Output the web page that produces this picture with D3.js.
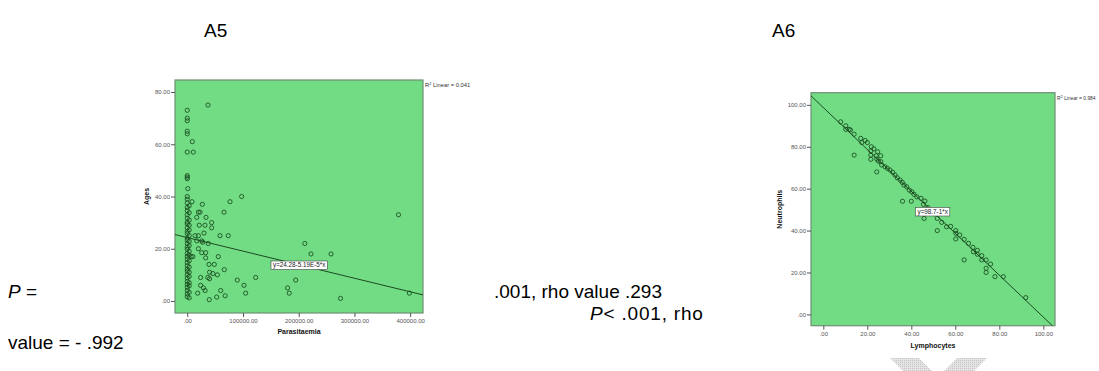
<!DOCTYPE html>
<html>
<head>
<meta charset="utf-8">
<script src="https://cdn.jsdelivr.net/npm/d3@7"></script>
<style>
  html, body { margin: 0; padding: 0; background: #fff; }
  svg { display: block; font-family: "Liberation Sans", Arial, sans-serif; }
</style>
</head>
<body>
<svg id="page" width="1099" height="371"></svg>
<script>
// ---- Panel A5: Ages vs Parasitaemia ----
const parasitaemia = [
  37200, 0, 0, 0, 0, 0, 9000, 0, 10800, 0, 0, 0, 1000, 0, 8500, 27000, 76700, 97600,
  20000, 23000, 66000, 33600, 17000, 43800, 43800, 21500, 31800, 14000, 20000, 30000,
  58700, 73600, 17000, 26000, 27600, 37700, 20000, 26000, 33000, 33000, 55700, 7000,
  10000, 39000, 48500, 66400, 40000, 46000, 54000, 24000, 37000, 40000, 89800, 122800,
  194600, 24000, 29000, 32000, 101800, 104800, 60000, 68000, 39500, 52800, 18700,
  180000, 183000, 211000, 222000, 258000, 379000, 275000, 398600,
  0, 0, 0, 0, 0, 0, 0, 0, 0, 0, 0, 0, 0, 0, 0, 0, 0, 0, 0, 0, 0, 0, 0, 0, 0, 0, 0, 0, 0, 0, 0,
  3500, 3500, 3500, 3500, 3500, 3500, 3500, 3500, 3500, 3500, 3500, 3500, 3500, 3500, 3500, 3500, 3500, 3500
];
const ages = [
  75, 73, 70, 69, 65, 64, 61, 57, 57, 48, 47.4, 46.8, 43, 40, 38, 37, 38, 40,
  34, 34, 34, 32, 32, 30, 28, 29, 29, 25, 25, 26,
  25, 25, 23, 23, 22.5, 22, 20, 18.5, 18.5, 16.5, 17, 17,
  17, 14, 14, 12, 11, 10.5, 10, 9, 9, 8.5, 8, 9,
  8, 6, 5, 4, 6, 3, 4, 2, 0.5, 1.5, 3,
  5, 3, 22, 18, 18, 33, 1, 3,
  39, 37.5, 35.8, 34.6, 33, 31.7, 30.2, 29.5, 28, 26.7, 25.8, 24.1, 23.3, 22, 20.6, 19.8,
  18.2, 17.1, 16, 14.7, 13.5, 12.2, 11.4, 10, 8.8, 7.5, 6.4, 5.2, 4, 2.7, 1.6,
  36.5, 33.8, 31, 29, 27.2, 25, 22.8, 21.2, 19, 17.6, 15.4, 13, 11, 9.4, 7, 5.8, 3.3, 1.2
];
const a5XTicks = [0, 100000, 200000, 300000, 400000];
const a5YTicks = [0, 20, 40, 60, 80];
const a5Fit = { intercept: 24.28, slope: -5.19e-5, label: "y=24.28-5.19E-5*x", r2: "0.041" };

// ---- Panel A6: Neutrophils vs Lymphocytes ----
const lymphocytes = [
  7.9, 10.2, 11.7, 10.2, 12.3, 14, 17, 19, 17.5, 20, 21.8, 23, 24.7, 14, 21.6, 21.6, 21.6,
  24, 26.1, 24.3, 25, 26.1, 26.5, 28, 29.1, 30.3, 31.5, 32.6, 33.6, 34.9, 35.9, 36.7, 37.9,
  39.1, 40.2, 41.2, 42.5, 44.4, 46.2, 36, 40, 24.3, 45.8, 51.8, 45.5, 47.5, 49, 50.5,
  51.8, 53.8, 56, 57.9, 60.2, 60.2, 60.2, 62, 64, 66, 68, 68.2, 70, 70, 72, 72, 74, 74, 74,
  76, 78, 81.8, 64, 92
];
const neutrophils = [
  91.9, 90, 88.3, 88.3, 88, 86, 84, 83, 82, 82, 80, 79, 77.6, 76, 78, 76, 74,
  75.7, 75.7, 74.1, 73.2, 72.9, 71.3, 70.5, 69.7, 68.9, 67.8, 66.5, 65.2, 64.1, 63, 61.7, 60.9,
  59.3, 58.5, 57.3, 56.1, 55.4, 54.1, 54, 54, 68, 45.8, 45.8, 52.5, 51, 49.5, 48,
  40, 43.9, 41.8, 42, 40, 38.7, 36, 37.9, 35.8, 33.9, 32, 29.9, 30.6, 28.7, 28, 26, 26, 22, 20,
  24, 18, 18, 26, 8
];
const a6XTicks = [0, 20, 40, 60, 80, 100];
const a6YTicks = [0, 20, 40, 60, 80, 100];
const a6Fit = { intercept: 98.7, slope: -1, label: "y=98.7-1*x", r2: "0.984" };

const svg = d3.select("#page");
const plotFill = "#72dc85";
const fmt = v => v === 0 ? ".00" : v.toFixed(2);

function scatterPanel(cfg) {
  const { xs, ys, xDomain, yDomain, box, xTicks, yTicks, fit, xLabel, yLabel, id } = cfg;
  const x = d3.scaleLinear().domain(xDomain).range([box.left, box.right]);
  const y = d3.scaleLinear().domain(yDomain).range([box.bottom, box.top]);
  const g = svg.append("g");

  g.append("clipPath").attr("id", id).append("rect")
    .attr("x", box.left).attr("y", box.top)
    .attr("width", box.right - box.left).attr("height", box.bottom - box.top);

  g.append("rect")
    .attr("x", box.left).attr("y", box.top)
    .attr("width", box.right - box.left).attr("height", box.bottom - box.top)
    .attr("fill", plotFill).attr("stroke", "#6f8f74").attr("stroke-width", 1.2);

  const xAxis = g.append("g").attr("transform", `translate(0,${box.bottom})`)
    .call(d3.axisBottom(x).tickValues(xTicks).tickFormat(fmt).tickSize(4).tickPadding(2));
  const yAxis = g.append("g").attr("transform", `translate(${box.left},0)`)
    .call(d3.axisLeft(y).tickValues(yTicks).tickFormat(fmt).tickSize(4).tickPadding(1));
  [xAxis, yAxis].forEach(a => {
    a.select(".domain").remove();
    a.selectAll("line").attr("stroke", "#555");
    a.selectAll("text").attr("font-size", 6).attr("fill", "#555")
      .attr("font-family", "'Liberation Sans', Arial, sans-serif");
  });

  // regression line across the plotted x-range
  const line = d3.line().x(d => x(d)).y(d => y(fit.intercept + fit.slope * d));
  g.append("path").datum(xDomain)
    .attr("clip-path", `url(#${id})`)
    .attr("d", line).attr("fill", "none")
    .attr("stroke", "#1d4a22").attr("stroke-width", 1);

  g.append("g").attr("clip-path", `url(#${id})`)
    .selectAll("circle").data(xs.map((v, i) => [v, ys[i]])).join("circle")
    .attr("cx", d => x(d[0])).attr("cy", d => y(d[1])).attr("r", 2.1)
    .attr("fill", "none").attr("stroke", "#184a1d").attr("stroke-width", 0.85);

  // equation label
  const lb = g.append("g").attr("transform", `translate(${cfg.labelAt[0]},${cfg.labelAt[1]})`);
  const lt = lb.append("text").attr("x", 2).attr("y", 6.2).attr("font-size", 6.3)
    .attr("fill", "#222").text(fit.label);
  const w = lt.node().getComputedTextLength() + 4;
  lb.insert("rect", "text").attr("width", w).attr("height", 8.5)
    .attr("fill", "#fff").attr("stroke", "#444").attr("stroke-width", 0.6);

  // R² annotation
  const r2 = g.append("text").attr("x", box.right + 2).attr("y", box.top + 7)
    .attr("font-size", cfg.r2Size).attr("fill", "#333");
  r2.append("tspan").text("R");
  r2.append("tspan").attr("dy", -2).attr("font-size", 4).text("2");
  r2.append("tspan").attr("dy", 2).text(" Linear = " + fit.r2);

  g.append("text").attr("x", (box.left + box.right) / 2).attr("y", cfg.xLabelY)
    .attr("text-anchor", "middle").attr("font-size", 7).attr("font-weight", "bold")
    .attr("fill", "#111").text(xLabel);
  g.append("text")
    .attr("transform", `translate(${cfg.yLabelX},${(box.top + box.bottom) / 2}) rotate(-90)`)
    .attr("text-anchor", "middle").attr("font-size", 7).attr("font-weight", "bold")
    .attr("fill", "#111").text(yLabel);
}

scatterPanel({
  id: "clipA5", xs: parasitaemia, ys: ages,
  xDomain: [-22000, 423000], yDomain: [-4.6, 84.6],
  box: { left: 175, right: 423, top: 80, bottom: 313 },
  xTicks: a5XTicks, yTicks: a5YTicks, fit: a5Fit,
  xLabel: "Parasitaemia", yLabel: "Ages",
  labelAt: [271, 261], xLabelY: 334, yLabelX: 149, r2Size: 5.8
});

scatterPanel({
  id: "clipA6", xs: lymphocytes, ys: neutrophils,
  xDomain: [-5.6, 105.3], yDomain: [-5.4, 105.8],
  box: { left: 811, right: 1055, top: 92.7, bottom: 325.7 },
  xTicks: a6XTicks, yTicks: a6YTicks, fit: a6Fit,
  xLabel: "Lymphocytes", yLabel: "Neutrophils",
  labelAt: [915.5, 207.5], xLabelY: 348, yLabelX: 782, r2Size: 4.9
});

// ---- Panel titles and body text ----
const body = svg.append("g").attr("font-size", 19).attr("fill", "#000");
body.append("text").attr("x", 204).attr("y", 37).text("A5");
body.append("text").attr("x", 772).attr("y", 37).text("A6");

const p1 = body.append("text").attr("x", 8).attr("y", 298);
p1.append("tspan").attr("font-style", "italic").text("P");
p1.append("tspan").text(" =");
body.append("text").attr("x", 494).attr("y", 298).text(".001, rho value .293");
const p2 = body.append("text").attr("x", 590).attr("y", 320).attr("letter-spacing", 0.8);
p2.append("tspan").attr("font-style", "italic").text("P");
p2.append("tspan").text("< .001, rho");
body.append("text").attr("x", 8).attr("y", 349).text("value = - .992");

// faint hatched watermark marks in the lower right
const defs = svg.append("defs");
const pat = defs.append("pattern").attr("id", "hatch").attr("patternUnits", "userSpaceOnUse")
  .attr("width", 2).attr("height", 2);
pat.append("rect").attr("width", 2).attr("height", 2).attr("fill", "#e4e4e4");
pat.append("rect").attr("width", 1).attr("height", 1).attr("fill", "#c4c4c4");
const wm = svg.append("g").attr("fill", "url(#hatch)");
wm.append("path").attr("d", "M890,358 L919,358 L932,371 L903,371 Z");
wm.append("path").attr("d", "M957,358 L987,358 L974,371 L944,371 Z");
</script>
</body>
</html>
